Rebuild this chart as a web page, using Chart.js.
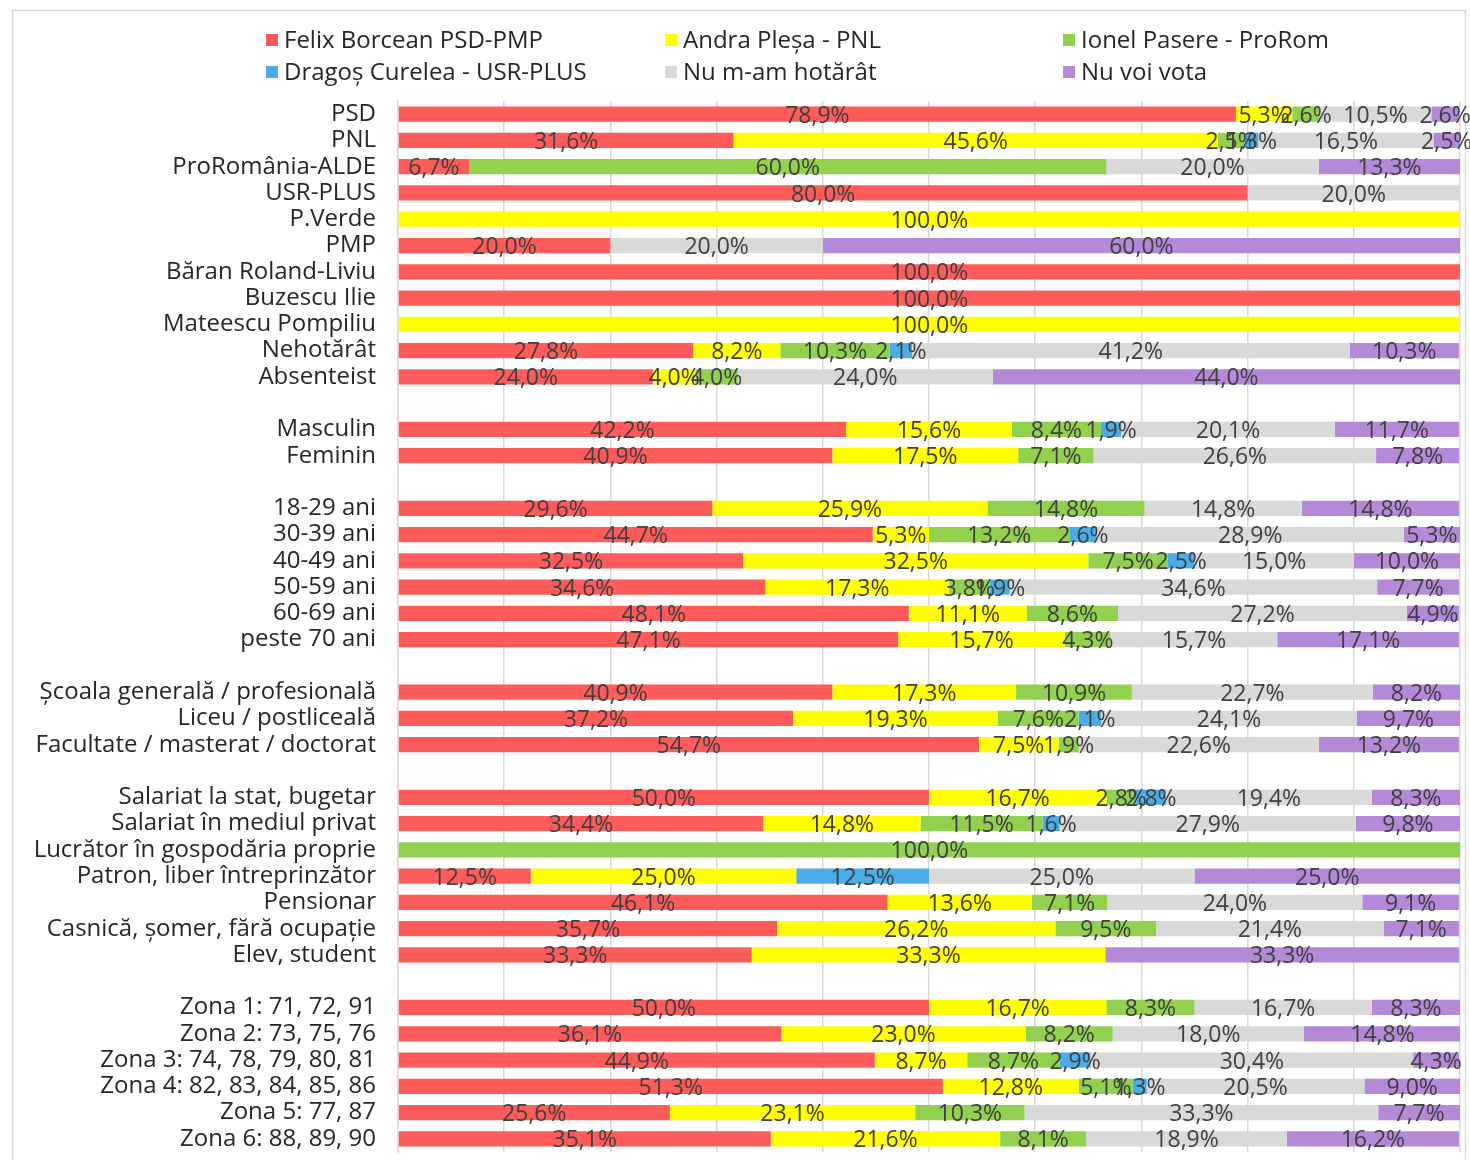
<!DOCTYPE html>
<html>
<head>
<meta charset="utf-8">
<script src="https://cdn.jsdelivr.net/npm/chart.js@4"></script>
<style>
html,body{margin:0;padding:0;background:#fff;}
canvas{display:block;}
</style>
</head>
<body>
<canvas id="c" width="1470" height="1160"></canvas>
<script>
const categories = [
  "PSD","PNL","ProRomânia-ALDE","USR-PLUS","P.Verde","PMP","Băran Roland-Liviu","Buzescu Ilie","Mateescu Pompiliu","Nehotărât","Absenteist",
  "",
  "Masculin","Feminin",
  "",
  "18-29 ani","30-39 ani","40-49 ani","50-59 ani","60-69 ani","peste 70 ani",
  "",
  "Școala generală / profesională","Liceu / postliceală","Facultate / masterat / doctorat",
  "",
  "Salariat la stat, bugetar","Salariat în mediul privat","Lucrător în gospodăria proprie","Patron, liber întreprinzător","Pensionar","Casnică, șomer, fără ocupație","Elev, student",
  "",
  "Zona 1: 71, 72, 91","Zona 2: 73, 75, 76","Zona 3: 74, 78, 79, 80, 81","Zona 4: 82, 83, 84, 85, 86","Zona 5: 77, 87","Zona 6: 88, 89, 90"
];

const seriesNames = ["Felix Borcean PSD-PMP","Andra Pleșa - PNL","Ionel Pasere - ProRom","Dragoș Curelea - USR-PLUS","Nu m-am hotărât","Nu voi vota"];

const borcean = [78.9,31.6,6.7,80.0,0,20.0,100,100,0,27.8,24.0, null, 42.2,40.9, null, 29.6,44.7,32.5,34.6,48.1,47.1, null, 40.9,37.2,54.7, null, 50.0,34.4,0,12.5,46.1,35.7,33.3, null, 50.0,36.1,44.9,51.3,25.6,35.1];
const plesa   = [5.3,45.6,0,0,100,0,0,0,100,8.2,4.0, null, 15.6,17.5, null, 25.9,5.3,32.5,17.3,11.1,15.7, null, 17.3,19.3,7.5, null, 16.7,14.8,0,25.0,13.6,26.2,33.3, null, 16.7,23.0,8.7,12.8,23.1,21.6];
const pasere  = [2.6,2.5,60.0,0,0,0,0,0,0,10.3,4.0, null, 8.4,7.1, null, 14.8,13.2,7.5,3.8,8.6,4.3, null, 10.9,7.6,1.9, null, 2.8,11.5,100,0,7.1,9.5,0, null, 8.3,8.2,8.7,5.1,10.3,8.1];
const curelea = [0,1.3,0,0,0,0,0,0,0,2.1,0, null, 1.9,0, null, 0,2.6,2.5,1.9,0,0, null, 0,2.1,0, null, 2.8,1.6,0,12.5,0,0,0, null, 0,0,2.9,1.3,0,0];
const nehotarat = [10.5,16.5,20.0,20.0,0,20.0,0,0,0,41.2,24.0, null, 20.1,26.6, null, 14.8,28.9,15.0,34.6,27.2,15.7, null, 22.7,24.1,22.6, null, 19.4,27.9,0,25.0,24.0,21.4,0, null, 16.7,18.0,30.4,20.5,33.3,18.9];
const nuVoiVota = [2.6,2.5,13.3,0,0,60.0,0,0,0,10.3,44.0, null, 11.7,7.8, null, 14.8,5.3,10.0,7.7,4.9,17.1, null, 8.2,9.7,13.2, null, 8.3,9.8,0,25.0,9.1,7.1,33.3, null, 8.3,14.8,4.3,9.0,7.7,16.2];

const colors = ["#FF5B5B","#FFFF00","#92D050","#4BACE6","#D9D9D9","#B389D8"];
const seriesValues = [borcean, plesa, pasere, curelea, nehotarat, nuVoiVota];

const FONT = '"Open Sans", "Noto Sans", sans-serif';

const fmt = v => v.toFixed(1).replace('.', ',') + '%';

const frame = {
  id: 'frame',
  beforeDraw(chart) {
    const ctx = chart.ctx;
    ctx.save();
    ctx.fillStyle = '#fff';
    ctx.fillRect(0, 0, chart.width, chart.height);
    ctx.strokeStyle = '#D9D9D9';
    ctx.lineWidth = 1.5;
    ctx.strokeRect(12.5, 10.5, 1453, 1200);
    ctx.restore();
  }
};

const valueLabels = {
  id: 'valueLabels',
  afterDatasetsDraw(chart) {
    const ctx = chart.ctx;
    ctx.save();
    ctx.font = '23px ' + FONT;
    ctx.fillStyle = '#404040';
    ctx.textAlign = 'center';
    ctx.textBaseline = 'middle';
    chart.data.datasets.forEach((ds, i) => {
      const meta = chart.getDatasetMeta(i);
      meta.data.forEach((el, j) => {
        const v = ds.data[j];
        if (!v) return;
        const x = (el.x + el.base) / 2;
        ctx.fillText(fmt(v), x, el.y + 2);
      });
    });
    ctx.restore();
  }
};

const columnLegend = {
  id: 'columnLegend',
  afterDraw(chart) {
    const ctx = chart.ctx;
    const cols = [266, 665, 1063];
    const rows = [40, 72];
    ctx.save();
    ctx.font = '24px ' + FONT;
    ctx.textBaseline = 'middle';
    ctx.textAlign = 'left';
    chart.data.datasets.forEach((ds, i) => {
      const x = cols[i % 3], y = rows[Math.floor(i / 3)];
      ctx.fillStyle = ds.backgroundColor;
      ctx.fillRect(x, y - 6, 12, 12);
      ctx.fillStyle = '#262626';
      ctx.fillText(ds.label, x + 18, y + 1);
    });
    ctx.restore();
  }
};

new Chart(document.getElementById('c'), {
  type: 'bar',
  data: {
    labels: categories,
    datasets: seriesNames.map((name, i) => ({
      label: name,
      data: seriesValues[i],
      backgroundColor: colors[i],
      borderWidth: 0,
      categoryPercentage: 1.0,
      barPercentage: 0.58
    }))
  },
  options: {
    indexAxis: 'y',
    responsive: false,
    animation: false,
    devicePixelRatio: 1,
    layout: { padding: { top: 101, bottom: 8, right: 10, left: 0 } },
    plugins: { legend: { display: false }, tooltip: { enabled: false } },
    scales: {
      x: {
        stacked: true,
        min: 0, max: 100,
        ticks: { display: false, stepSize: 10 },
        grid: { color: '#D9D9D9', lineWidth: 1.5, drawTicks: false },
        border: { display: false },
        afterFit(scale) { scale.height = 0; }
      },
      y: {
        stacked: true,
        grid: { display: false, drawTicks: true, tickLength: 22, tickColor: 'rgba(0,0,0,0)' },
        border: { display: true, color: '#D9D9D9', width: 1.5 },
        ticks: {
          autoSkip: false,
          padding: 0,
          color: '#262626',
          font: { family: FONT, size: 24, lineHeight: 0.5 }
        },
        afterFit(scale) { scale.width = 398; }
      }
    }
  },
  plugins: [frame, valueLabels, columnLegend]
});
</script>
</body>
</html>
